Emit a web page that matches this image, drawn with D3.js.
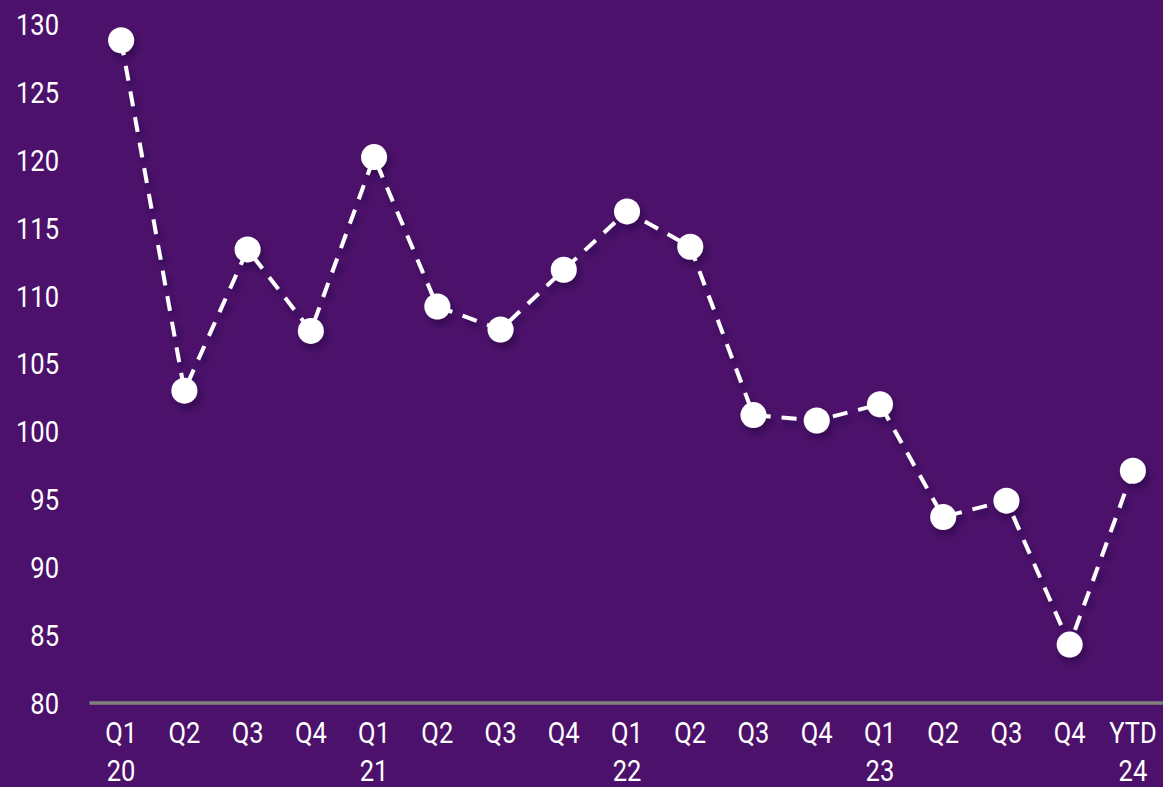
<!DOCTYPE html>
<html>
<head>
<meta charset="utf-8">
<script src="https://cdn.jsdelivr.net/npm/d3@7"></script>
<style>
  html, body { margin: 0; padding: 0; background: #4c116a; }
  svg { display: block; }
</style>
</head>
<body>
<svg id="chart" width="1163" height="787"></svg>
<script>
// Quarter labels (two lines: quarter, year suffix)
const quarters = ["Q1","Q2","Q3","Q4","Q1","Q2","Q3","Q4","Q1","Q2","Q3","Q4","Q1","Q2","Q3","Q4","YTD"];
const years    = ["20","","","","21","","","","22","","","","23","","","","24"];
// Index values per period
const values   = [128.8,103.0,113.4,107.4,120.2,109.2,107.5,111.9,116.2,113.6,101.2,100.8,102.0,93.7,94.9,84.3,97.1];
// Y-axis ticks
const yTicks   = [80,85,90,95,100,105,110,115,120,125,130];

const W = 1163, H = 787;
const svg = d3.select("#chart");
const ids = quarters.map((q, i) => i);

const x = d3.scaleBand().domain(ids).range([89.5, 1164.5]);
const y = d3.scaleLinear().domain([80, 130]).range([703, 24]);

const SX = 0.88; // horizontal squeeze for a condensed look
const font = "Roboto, 'Noto Sans', sans-serif";

// soft shadow under line and markers
const defs = svg.append("defs");
const f = defs.append("filter").attr("id", "shadow")
  .attr("x", "-20%").attr("y", "-20%").attr("width", "140%").attr("height", "140%");
f.append("feDropShadow").attr("dx", 3).attr("dy", 5).attr("stdDeviation", 3)
  .attr("flood-color", "#1e0433").attr("flood-opacity", 0.45);

// Y axis
const yAxis = svg.append("g")
  .attr("transform", "translate(89,0)")
  .call(d3.axisLeft(y).tickValues(yTicks).tickSize(0).tickPadding(0));
yAxis.select(".domain").remove();
yAxis.selectAll("text")
  .attr("fill", "#ffffff")
  .attr("font-family", font)
  .attr("font-size", 29)
  .attr("x", -30 / SX)
  .attr("dy", "0.36em")
  .attr("transform", `scale(${SX},1)`);

// X axis baseline and labels
const xAxis = svg.append("g")
  .attr("transform", "translate(0,703)")
  .call(d3.axisBottom(x).tickSize(0).tickFormat(""));
xAxis.select(".domain").remove();
svg.append("line")
  .attr("x1", x.range()[0]).attr("x2", x.range()[1])
  .attr("y1", y(80)).attr("y2", y(80))
  .attr("stroke", "#808080").attr("stroke-width", 3.3);

xAxis.selectAll(".tick").each(function(d) {
  const t = d3.select(this).append("text")
    .attr("fill", "#ffffff")
    .attr("font-family", font)
    .attr("font-size", 29)
    .attr("text-anchor", "middle")
    .attr("transform", `scale(${SX},1)`);
  t.append("tspan").attr("x", 0).attr("y", 40).text(quarters[d]);
  if (years[d]) t.append("tspan").attr("x", 0).attr("y", 78).text(years[d]);
});

// Dashed line with markers
const cx = i => x(i) + x.bandwidth() / 2;
const plot = svg.append("g").attr("filter", "url(#shadow)");
plot.append("path")
  .datum(values)
  .attr("fill", "none")
  .attr("stroke", "#ffffff")
  .attr("stroke-width", 4)
  .attr("stroke-dasharray", "15,11")
  .attr("d", d3.line().x((d, i) => cx(i)).y(d => y(d)));

plot.selectAll("circle")
  .data(values)
  .join("circle")
  .attr("cx", (d, i) => cx(i))
  .attr("cy", d => y(d))
  .attr("r", 13)
  .attr("fill", "#ffffff");
</script>
</body>
</html>
